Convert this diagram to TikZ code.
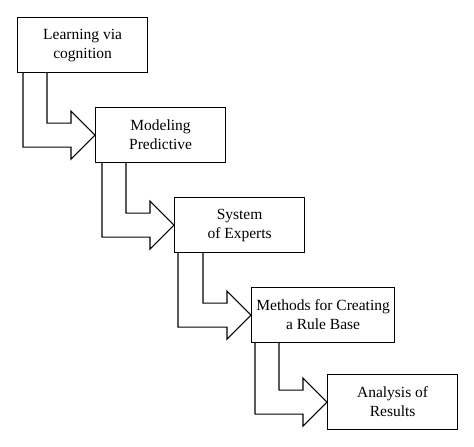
\documentclass[tikz,border=0pt]{standalone}
\usepackage{fontspec}
\setmainfont{Liberation Serif}
\usepackage{tikz}
\usetikzlibrary{calc}
\tikzset{
x=1pt, y=1pt, % one unit is one point
box/.style={draw, line width=1.2pt, anchor=north west, minimum width=130, minimum height=55, inner sep=0pt, align=center, font=\fontsize{15.5}{19}\selectfont}, % the stage boxes
blockarrow/.style={draw, line width=1.2pt, line join=miter}, % outline of the stair arrows
}

\begin{document}
\begin{tikzpicture}
                \useasboundingbox (0,0) rectangle (474,-447);

                \node[box] (learn) at (17,-17) {Learning via\\cognition};
                \node[box] (model) at (95,-107) {Modeling\\Predictive};
                \node[box] (expert) at (174,-197) {System\\of Experts};
                \node[box, minimum width=143] (rule) at (251,-287) {Methods for Creating\\a Rule Base};
                \node[box] (result) at (327,-374) {Analysis of\\Results};

                \draw[blockarrow] ($(learn.south west)+(6,0)$) |- ($(model.west)+(-24,-12)$) -- ++(0,-12) -- (model.west) -- ++(-24,24) -- ++(0,-12) -| ($(learn.south west)+(30,0)$);
                \draw[blockarrow] ($(model.south west)+(7,0)$) |- ($(expert.west)+(-24,-12)$) -- ++(0,-12) -- (expert.west) -- ++(-24,24) -- ++(0,-12) -| ($(model.south west)+(31,0)$);
                \draw[blockarrow] ($(expert.south west)+(4,0)$) |- ($(rule.west)+(-24,-12)$) -- ++(0,-12) -- (rule.west) -- ++(-24,24) -- ++(0,-12) -| ($(expert.south west)+(29,0)$);
                \draw[blockarrow] ($(rule.south west)+(4,0)$) |- ($(result.west)+(-24,-12)$) -- ++(0,-12) -- (result.west) -- ++(-24,24) -- ++(0,-12) -| ($(rule.south west)+(28,0)$);
            \end{tikzpicture}
\end{document}
